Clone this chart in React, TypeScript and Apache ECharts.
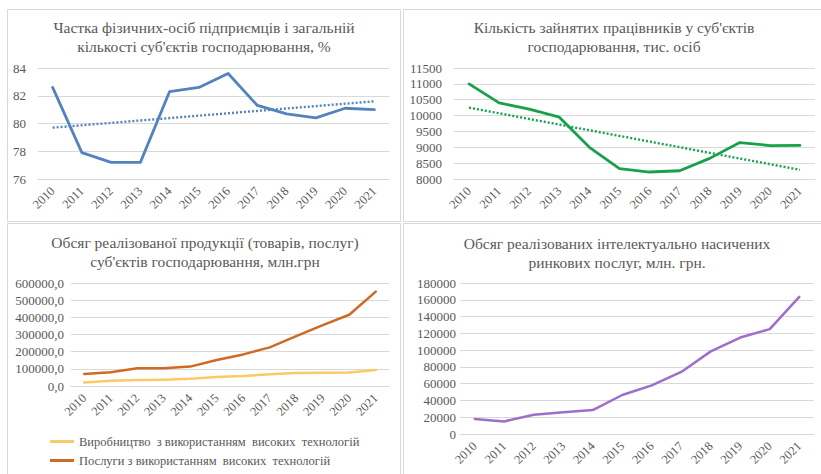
import React, { useEffect, useRef } from "react";
import * as echarts from "echarts";

const years = ["2010", "2011", "2012", "2013", "2014", "2015", "2016", "2017", "2018", "2019", "2020", "2021"];

const shareFop = [82.6, 77.9, 77.2, 77.2, 82.3, 82.6, 83.6, 81.3, 80.7, 80.4, 81.1, 81.0];
const shareTrend = [79.7, null, null, null, null, null, null, null, null, null, null, 81.6];

const employed = [11000, 10400, 10200, 9950, 9000, 8330, 8220, 8260, 8650, 9150, 9055, 9060];
const employedTrend = [10250, null, null, null, null, null, null, null, null, null, null, 8290];

const hiTechProduction = [20000, 30000, 35000, 37000, 42000, 52000, 58000, 68000, 76000, 77000, 78000, 93000];
const hiTechServices = [70000, 80000, 103000, 103000, 113000, 151000, 184000, 225000, 290000, 355000, 415000, 550000];

const knowledgeServices = [18000, 15000, 23000, 26000, 28500, 46500, 58000, 74000, 98500, 115000, 125000, 163500];

const titles = [
  ["Частка фізичних-осіб підприємців і загальній", "кількості суб'єктів господарювання, %"],
  ["Кількість зайнятих працівників у суб'єктів", "господарювання, тис. осіб"],
  ["Обсяг реалізованої продукції (товарів, послуг)", "суб'єктів господарювання, млн.грн"],
  ["Обсяг реалізованих інтелектуально насичених", "ринкових послуг, млн. грн."],
];

const legendNames = ["Виробництво  з використанням  високих  технологій", "Послуги з використанням  високих  технологій"];

const FONT = "'Liberation Serif', 'Times New Roman', serif";
const TXT = "#595959";
const GRID = "#d9d9d9";

export default function App() {
  const ref = useRef<HTMLDivElement>(null);
  useEffect(() => {
    if (!ref.current) return;
    const chart = echarts.init(ref.current, undefined, { renderer: "svg" });

    const titlePos = [
      { x: 204, y1: 27, y2: 46 },
      { x: 614, y1: 27.5, y2: 46 },
      { x: 205, y1: 242, y2: 261.5 },
      { x: 617, y1: 243, y2: 262.5 },
    ];
    const graphic: any[] = [
      { type: "rect", shape: { x: 7.5, y: 9.5, width: 393, height: 212 }, style: { fill: "none", stroke: GRID, lineWidth: 1 } },
      { type: "rect", shape: { x: 403.5, y: 9.5, width: 430, height: 212 }, style: { fill: "none", stroke: GRID, lineWidth: 1 } },
      { type: "rect", shape: { x: 7.5, y: 223.5, width: 393, height: 270 }, style: { fill: "none", stroke: GRID, lineWidth: 1 } },
      { type: "rect", shape: { x: 403.5, y: 223.5, width: 430, height: 270 }, style: { fill: "none", stroke: GRID, lineWidth: 1 } },
    ];
    titles.forEach((t, i) => {
      const p = titlePos[i];
      graphic.push({ type: "text", x: p.x, y: p.y1, style: { text: t[0], align: "center", verticalAlign: "middle", fontFamily: FONT, fontSize: 15.5, fill: TXT } });
      graphic.push({ type: "text", x: p.x, y: p.y2, style: { text: t[1], align: "center", verticalAlign: "middle", fontFamily: FONT, fontSize: 15.5, fill: TXT } });
    });

    const grids = [
      { left: 38, top: 68, width: 351, height: 111 },
      { left: 454, top: 68, width: 361, height: 111 },
      { left: 71, top: 283, width: 318, height: 103 },
      { left: 460, top: 283, width: 354, height: 151 },
    ];

    const xAxes = grids.map((_, i) => ({
      type: "category",
      gridIndex: i,
      data: years,
      boundaryGap: true,
      axisLine: { show: true, lineStyle: { color: GRID, width: 1 } },
      axisTick: { show: false },
      axisLabel: { rotate: 45, margin: 10, color: TXT, fontFamily: FONT, fontSize: 12.5 },
    }));

    const plain = (v: number) => String(v);
    const yBase = (i: number, min: number, max: number, interval: number, margin: number, fmt: any) => ({
      type: "value",
      gridIndex: i,
      min,
      max,
      interval,
      axisLine: { show: false },
      axisTick: { show: false },
      splitLine: { lineStyle: { color: GRID, width: 1 } },
      axisLabel: { margin, color: TXT, fontFamily: FONT, fontSize: 13, formatter: fmt },
    });

    const yAxes = [
      yBase(0, 76, 84, 2, 12, plain),
      yBase(1, 8000, 11500, 500, 12, plain),
      yBase(2, 0, 600000, 100000, 7, (v: number) => v.toFixed(1).replace(".", ",")),
      yBase(3, 0, 180000, 20000, 4, plain),
    ];

    const line = (name: string, i: number, data: any[], color: string, width = 2.8) => ({
      name,
      type: "line",
      xAxisIndex: i,
      yAxisIndex: i,
      data,
      showSymbol: false,
      symbol: "none",
      lineStyle: { color, width, cap: "round", join: "round" },
      itemStyle: { color },
    });
    const trend = (name: string, i: number, data: any[], color: string) => ({
      name,
      type: "line",
      xAxisIndex: i,
      yAxisIndex: i,
      data,
      connectNulls: true,
      showSymbol: false,
      symbol: "none",
      lineStyle: { color, width: 2.4, type: [2, 2] },
      itemStyle: { color },
    });

    const blue = "#5283bd";
    const green = "#17a24a";
    const gold = "#fbc965";
    const orange = "#cf6a25";
    const purple = "#9c6fcb";

    const legendBase = {
      orient: "horizontal",
      left: 50,
      padding: 0,
      itemWidth: 24,
      itemHeight: 3,
      icon: "rect",
      selectedMode: false,
      textStyle: { color: TXT, fontFamily: FONT, fontSize: 12.5 },
    };

    chart.setOption({
      animation: false,
      backgroundColor: "#ffffff",
      graphic,
      grid: grids.map((g) => ({ ...g, containLabel: false })),
      xAxis: xAxes,
      yAxis: yAxes,
      legend: [
        { ...legendBase, data: [legendNames[0]], top: 435 },
        { ...legendBase, data: [legendNames[1]], top: 454 },
      ],
      series: [
        line("Частка ФОП", 0, shareFop, blue),
        trend("Тренд частки", 0, shareTrend, blue),
        line("Зайняті", 1, employed, green),
        trend("Тренд зайнятих", 1, employedTrend, green),
        line(legendNames[0], 2, hiTechProduction, gold, 2.5),
        line(legendNames[1], 2, hiTechServices, orange, 2.5),
        line("Інтелектуальні послуги", 3, knowledgeServices, purple, 2.5),
      ],
    });
    return () => chart.dispose();
  }, []);
  return <div ref={ref} style={{ position: "fixed", left: 0, top: 0, width: 821, height: 474, background: "#fff" }} />;
}
